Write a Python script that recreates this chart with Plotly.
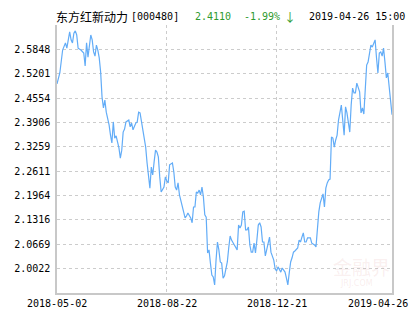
import plotly.graph_objects as go

# ---- data (trading-day index since 2018-05-02, NAV) ----
day = [0, 2, 4, 5, 6, 7, 8, 9, 10, 11, 12, 13, 14, 15, 17, 18, 19, 20, 21, 22, 23, 24, 25, 26, 27, 28, 29, 30,
       31, 32, 33, 34, 35, 36, 37, 38, 39, 40, 41, 42, 44, 45, 46, 47, 48, 49, 51, 52, 53, 54, 56, 57, 58, 59,
       60, 61, 63, 64, 65, 66, 67, 68, 69, 70, 71, 72, 73, 74, 76, 77, 78, 79, 80, 82, 83, 84, 85, 86, 87, 89,
       90, 91, 92, 93, 95, 96, 97, 98, 99, 100, 101, 102, 103, 104, 105, 106, 107, 108, 109, 110, 111, 112,
       113, 114, 115, 116, 117, 118, 119, 121, 122, 123, 124, 125, 126, 128, 129, 130, 131, 132, 133, 134,
       135, 136, 137, 138, 139, 140, 141, 142, 143, 144, 145, 146, 147, 148, 149, 150, 151, 152, 154, 155,
       156, 157, 158, 159, 160, 161, 162, 163, 164, 165, 166, 167, 168, 169, 171, 172, 173, 174, 175, 176,
       177, 178, 180, 181, 183, 184, 185, 186, 187, 188, 189, 190, 191, 192, 193, 194, 195, 196, 197, 198,
       199, 200, 202, 204, 205, 206, 208, 209, 210, 211, 212, 213, 215, 216, 217, 218, 219, 220, 221, 222,
       223, 224, 225, 226, 227, 228, 229, 230, 231, 232, 233, 234, 235, 236, 237, 238]
nav = [2.493, 2.522, 2.583, 2.591, 2.602, 2.588, 2.615, 2.631, 2.610, 2.602, 2.628, 2.634, 2.623, 2.588,
       2.583, 2.580, 2.575, 2.541, 2.602, 2.564, 2.604, 2.623, 2.610, 2.578, 2.567, 2.596, 2.583, 2.562,
       2.525, 2.458, 2.429, 2.450, 2.418, 2.402, 2.384, 2.357, 2.336, 2.392, 2.349, 2.355, 2.323, 2.296,
       2.317, 2.365, 2.373, 2.392, 2.397, 2.379, 2.389, 2.371, 2.389, 2.392, 2.418, 2.416, 2.392, 2.363,
       2.325, 2.283, 2.246, 2.216, 2.272, 2.251, 2.286, 2.317, 2.312, 2.299, 2.246, 2.206, 2.219, 2.246,
       2.235, 2.230, 2.278, 2.283, 2.259, 2.219, 2.211, 2.230, 2.198, 2.171, 2.150, 2.137, 2.142, 2.150,
       2.137, 2.124, 2.166, 2.166, 2.206, 2.203, 2.211, 2.198, 2.219, 2.193, 2.145, 2.139, 2.044, 2.052,
       2.017, 1.985, 1.980, 1.959, 2.025, 2.073, 2.052, 2.020, 2.017, 1.977, 1.983, 2.020, 2.057, 2.089,
       2.078, 2.070, 2.065, 2.052, 2.118, 2.110, 2.118, 2.153, 2.155, 2.105, 2.105, 2.113, 2.065, 2.046,
       2.046, 2.070, 2.044, 2.078, 2.118, 2.124, 2.113, 2.073, 2.073, 2.036, 2.054, 2.073, 2.086, 2.046,
       2.025, 2.001, 1.996, 2.007, 2.001, 1.993, 2.004, 1.999, 1.993, 1.977, 1.959, 1.991, 2.020, 2.031,
       2.046, 2.049, 2.057, 2.078, 2.073, 2.086, 2.097, 2.073, 2.073, 2.084, 2.084, 2.070, 2.065, 2.060,
       2.110, 2.153, 2.177, 2.193, 2.201, 2.166, 2.216, 2.230, 2.238, 2.240, 2.352, 2.349, 2.325, 2.344,
       2.357, 2.397, 2.437, 2.357, 2.432, 2.416, 2.365, 2.437, 2.482, 2.469, 2.469, 2.495, 2.472, 2.416,
       2.429, 2.413, 2.477, 2.543, 2.551, 2.570, 2.596, 2.591, 2.602, 2.610, 2.562, 2.522, 2.575, 2.578,
       2.567, 2.588, 2.551, 2.509, 2.522, 2.482, 2.460, 2.411]

y_ticks = [2.0022, 2.0669, 2.1316, 2.1964, 2.2611, 2.3259, 2.3906, 2.4554, 2.5201, 2.5848]
x_tick_days = [0, 78, 156, 238]
x_tick_labels = ["2018-05-02", "2018-08-22", "2018-12-21", "2019-04-26"]
y_min, y_max = 1.9375, 2.6495

fund_name = "东方红新动力"
fund_code = "[000480]"
last_nav = "2.4110"
change = "-1.99%"
arrow = "↓"
stamp = "2019-04-26 15:00"

W, H = 415, 330
L, R, T, B = 57, 23, 25, 37
PW, PH = W - L - R, H - T - B

def px(p):
    return (p - L) / PW

def py(p):
    return (H - B - p) / PH

MONO = "DejaVu Sans Mono, Liberation Mono, monospace"
CJK = "Noto Sans CJK SC, sans-serif"

fig = go.Figure()
fig.add_trace(go.Scatter(x=day, y=nav, mode="lines",
                         line=dict(color="#62acf7", width=1.2), hoverinfo="skip"))

annotations = []
for d, lab in zip(x_tick_days, x_tick_labels):
    anchor = "center"
    xs = 0
    if d == x_tick_days[-1]:
        anchor = "right"
        xs = 18
    annotations.append(dict(x=d, xref="x", y=0, yref="paper", yanchor="top", yshift=-3,
                            xanchor=anchor, xshift=xs, text=lab, showarrow=False,
                            font=dict(family=MONO, size=10, color="#000")))

def top_text(x, text, family, size, color):
    return dict(x=px(x), y=py(16), xref="paper", yref="paper", xanchor="left", yanchor="middle",
                text=text, showarrow=False, font=dict(family=family, size=size, color=color))

GREEN = "#2e9a2e"
annotations += [
    top_text(54, fund_name, CJK, 12, "#000"),
    top_text(129, fund_code, MONO, 10, "#000"),
    top_text(193, last_nav, MONO, 10, GREEN),
    top_text(242, change, MONO, 10, GREEN),
    top_text(282, arrow, CJK, 12, GREEN),
    top_text(307, stamp, MONO, 10, "#000"),
    dict(x=px(361), y=py(266), xref="paper", yref="paper", xanchor="center", yanchor="middle",
         text="金融界", showarrow=False, font=dict(family=CJK, size=19, color="rgba(215,140,140,0.15)")),
    dict(x=px(356), y=py(283), xref="paper", yref="paper", xanchor="center", yanchor="middle",
         text="JRJ.COM", showarrow=False, font=dict(family="DejaVu Sans", size=8, color="rgba(215,140,140,0.17)")),
]

fig.update_layout(
    width=W, height=H, margin=dict(l=L, r=R, t=T, b=B),
    paper_bgcolor="white", plot_bgcolor="white", showlegend=False,
    annotations=annotations,
    xaxis=dict(range=[0, x_tick_days[-1]], tickvals=x_tick_days[1:3], showticklabels=False,
               showgrid=True, gridcolor="#cccccc", griddash="3px,3px", gridwidth=1,
               zeroline=False, showline=True, linecolor="#c8c8c8", linewidth=1.5, ticks="",
               fixedrange=True),
    yaxis=dict(range=[y_min, y_max], tickvals=y_ticks, ticktext=[f"{v:.4f}" for v in y_ticks],
               showgrid=True, gridcolor="#cccccc", griddash="3px,3px", gridwidth=1,
               zeroline=False, showline=True, mirror=True, linecolor="#c8c8c8", linewidth=1.5,
               ticks="", ticklabelstandoff=3, tickfont=dict(family=MONO, size=10, color="#000"),
               fixedrange=True),
)

fig.write_html("out.html")
